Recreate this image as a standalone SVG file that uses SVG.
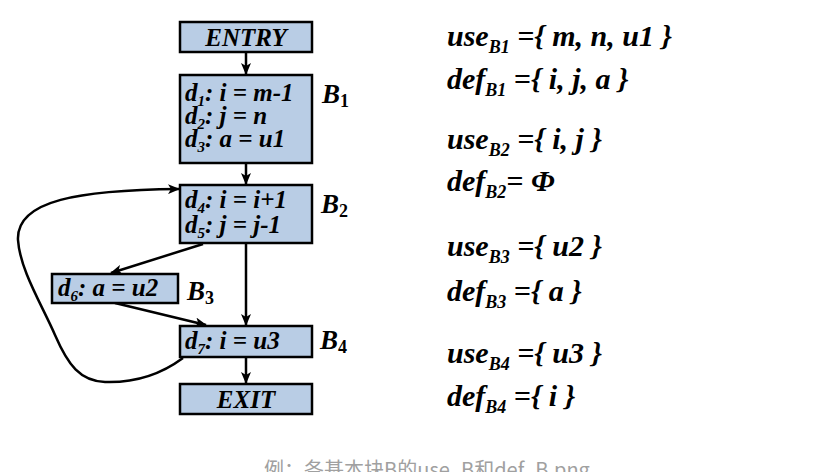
<svg xmlns="http://www.w3.org/2000/svg" width="814" height="472" viewBox="0 0 814 472">
<style>
.box{fill:#b9cde5;stroke:#000;stroke-width:2.5}
.t{font-size:25px}
.lbl{font-size:27px}
.up{font-style:normal;font-size:18px}
.r{font-size:30px}
.sub{font-size:18px}
.ds{font-size:15px}
.edge{fill:none;stroke:#000;stroke-width:2.5}
.cap{font-size:20px;fill:#a0a0a0}
</style>
<defs>
<marker id="ah" viewBox="0 0 12 10" refX="11" refY="5" markerWidth="12" markerHeight="10" markerUnits="userSpaceOnUse" orient="auto">
<path d="M0,0 L12,5 L0,10 L3,5 Z" fill="#000"/>
</marker>
</defs>
<rect width="814" height="472" fill="#fff"/>
<g id="connectors">
<path class="edge" d="M246,52 L246,74" marker-end="url(#ah)"/>
<path class="edge" d="M246,163 L246,184" marker-end="url(#ah)"/>
<path class="edge" d="M246,243 L246,325" marker-end="url(#ah)"/>
<path class="edge" d="M203,244 L111,273" marker-end="url(#ah)"/>
<path class="edge" d="M115,303 L206,325" marker-end="url(#ah)"/>
<path class="edge" d="M246,357 L246,383" marker-end="url(#ah)"/>
<path class="edge" d="M183,358 C160,375 135,383 105,382 C80,381 68,365 55,335 C42,305 20,270 18,240 C16,200 80,190 179,189" marker-end="url(#ah)"/>
</g>
<g font-family="Liberation Serif, Times New Roman, serif" font-weight="bold" font-style="italic" fill="#000">
<g id="entry">
<rect class="box" x="180" y="22" width="132" height="30"/>
<text class="t" x="246" y="46" text-anchor="middle">ENTRY</text>
</g>
<g id="B1">
<rect class="box" x="180" y="75" width="132" height="88"/>
<text class="t" x="185" y="101">d<tspan class="ds" dy="5">1</tspan><tspan dy="-5">: i = m-1</tspan></text>
<text class="t" x="185" y="124">d<tspan class="ds" dy="5">2</tspan><tspan dy="-5">: j = n</tspan></text>
<text class="t" x="185" y="147">d<tspan class="ds" dy="5">3</tspan><tspan dy="-5">: a = u1</tspan></text>
<text class="lbl" x="322" y="103">B<tspan class="up" dy="4">1</tspan></text>
</g>
<g id="B2">
<rect class="box" x="180" y="185" width="132" height="58"/>
<text class="t" x="185" y="208">d<tspan class="ds" dy="5">4</tspan><tspan dy="-5">: i = i+1</tspan></text>
<text class="t" x="185" y="233">d<tspan class="ds" dy="5">5</tspan><tspan dy="-5">: j = j-1</tspan></text>
<text class="lbl" x="321" y="213">B<tspan class="up" dy="4">2</tspan></text>
</g>
<g id="B3">
<rect class="box" x="52" y="274" width="126" height="29"/>
<text class="t" x="58" y="296">d<tspan class="ds" dy="5">6</tspan><tspan dy="-5">: a = u2</tspan></text>
<text class="lbl" x="187" y="300">B<tspan class="up" dy="4">3</tspan></text>
</g>
<g id="B4">
<rect class="box" x="180" y="326" width="132" height="31"/>
<text class="t" x="185" y="349">d<tspan class="ds" dy="5">7</tspan><tspan dy="-5">: i = u3</tspan></text>
<text class="lbl" x="320" y="349">B<tspan class="up" dy="4">4</tspan></text>
</g>
<g id="exit">
<rect class="box" x="180" y="384" width="132" height="30"/>
<text class="t" x="246" y="408" text-anchor="middle">EXIT</text>
</g>
<g id="sets">
<text class="r" x="447" y="46">use<tspan class="sub" dy="7">B1</tspan><tspan dy="-7"> ={ m, n, u1 }</tspan></text>
<text class="r" x="447" y="89">def<tspan class="sub" dy="7">B1</tspan><tspan dy="-7"> ={ i, j, a }</tspan></text>
<text class="r" x="447" y="149">use<tspan class="sub" dy="7">B2</tspan><tspan dy="-7"> ={ i, j }</tspan></text>
<text class="r" x="447" y="191">def<tspan class="sub" dy="7">B2</tspan><tspan dy="-7">= Φ</tspan></text>
<text class="r" x="447" y="256">use<tspan class="sub" dy="7">B3</tspan><tspan dy="-7"> ={ u2 }</tspan></text>
<text class="r" x="447" y="301">def<tspan class="sub" dy="7">B3</tspan><tspan dy="-7"> ={ a }</tspan></text>
<text class="r" x="447" y="363">use<tspan class="sub" dy="7">B4</tspan><tspan dy="-7"> ={ u3 }</tspan></text>
<text class="r" x="447" y="406">def<tspan class="sub" dy="7">B4</tspan><tspan dy="-7"> ={ i }</tspan></text>
</g>
</g>
<text class="cap" font-family="Noto Sans CJK SC, Noto Sans, sans-serif" x="427" y="477" text-anchor="middle">例：各基本块B的use_B和def_B.png</text>
</svg>
